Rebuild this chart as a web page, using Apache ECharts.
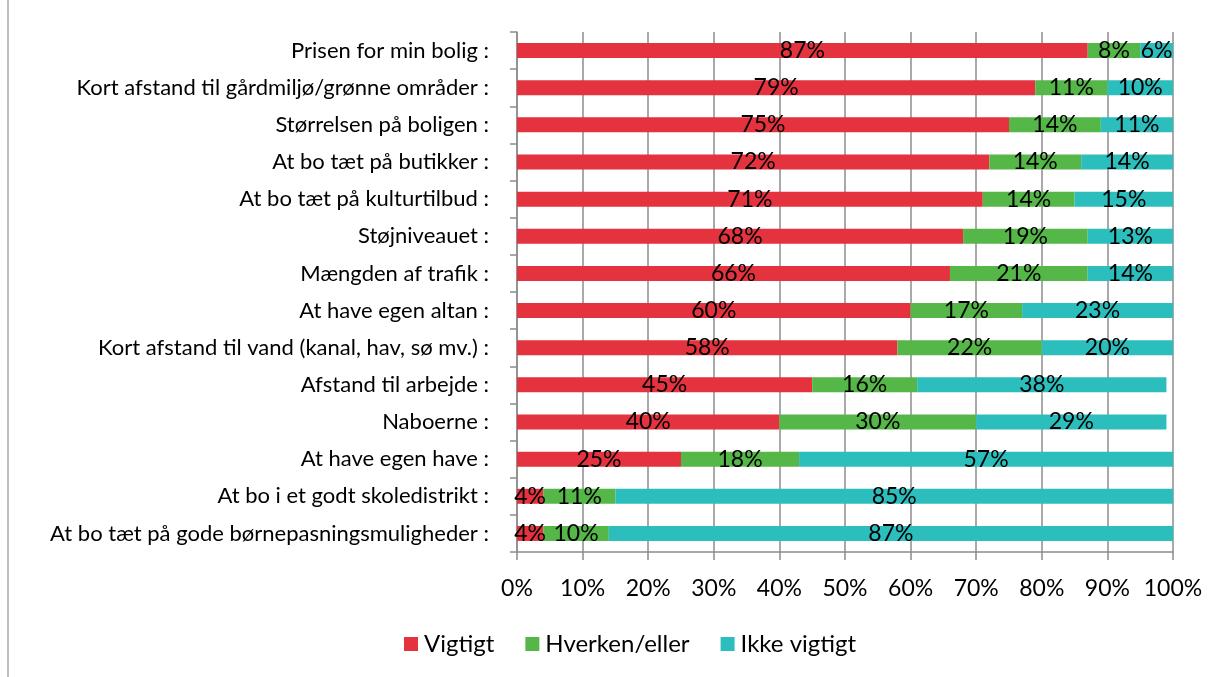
<!DOCTYPE html>
<html>
<head>
<meta charset="utf-8">
<script src="https://cdn.jsdelivr.net/npm/echarts@6/dist/echarts.min.js"></script>
<style>
  html, body { margin: 0; padding: 0; background: #ffffff; }
  #chart { width: 1228px; height: 677px; }
</style>
</head>
<body>
<div id="chart"></div>
<script>
// Survey items, top to bottom
const categories = [
  'Prisen for min bolig :',
  'Kort afstand til gårdmiljø/grønne områder :',
  'Størrelsen på boligen :',
  'At bo tæt på butikker :',
  'At bo tæt på kulturtilbud :',
  'Støjniveauet :',
  'Mængden af trafik :',
  'At have egen altan :',
  'Kort afstand til vand (kanal, hav, sø mv.) :',
  'Afstand til arbejde :',
  'Naboerne :',
  'At have egen have :',
  'At bo i et godt skoledistrikt :',
  'At bo tæt på gode børnepasningsmuligheder :'
];

// Share of answers (%) per item
const vigtigt      = [87, 79, 75, 72, 71, 68, 66, 60, 58, 45, 40, 25, 4, 4];
const hverkenEller = [8, 11, 14, 14, 14, 19, 21, 17, 22, 16, 30, 18, 11, 10];
const ikkeVigtigt  = [6, 10, 11, 14, 15, 13, 14, 23, 20, 38, 29, 57, 85, 87];

const seriesNames = ['Vigtigt', 'Hverken/eller', 'Ikke vigtigt'];
const xTicks = [0, 10, 20, 30, 40, 50, 60, 70, 80, 90, 100];

const FONT = 'Lato, "Open Sans", sans-serif';
const colors = ['#E4323F', '#55B748', '#2CBDBD'];

const chart = echarts.init(document.getElementById('chart'), null, { renderer: 'canvas' });

function barSeries(name, data, color) {
  return {
    name: name,
    type: 'bar',
    stack: 'total',
    barWidth: 15,
    data: data,
    itemStyle: { color: color },
    label: {
      show: true,
      position: 'inside',
      color: '#000000',
      fontFamily: FONT,
      fontSize: 23,
      formatter: p => p.value + '%'
    },
    emphasis: { disabled: true }
  };
}

chart.setOption({
  animation: false,
  textStyle: { fontFamily: FONT },
  graphic: [{
    type: 'rect',
    shape: { x: 7, y: 0, width: 2, height: 677 },
    style: { fill: '#BEBEBE' },
    silent: true
  }],
  legend: {
    data: seriesNames,
    left: 399,
    top: 627,
    itemWidth: 14,
    itemHeight: 14,
    itemGap: 31,
    icon: 'rect',
    textStyle: { fontFamily: FONT, fontSize: 24, color: '#000000', padding: [0, 0, 0, 1] }
  },
  grid: { left: 517, right: 55, top: 32, bottom: 125, containLabel: false },
  xAxis: {
    type: 'value',
    min: xTicks[0],
    max: xTicks[xTicks.length - 1],
    interval: 10,
    axisLine: { show: true, lineStyle: { color: '#8C8C8C', width: 1.5 } },
    axisTick: { show: true, length: 8, lineStyle: { color: '#8C8C8C', width: 1.5 } },
    splitLine: { show: true, lineStyle: { color: '#8C8C8C', width: 1.5 } },
    axisLabel: {
      formatter: v => v + '%',
      color: '#000000',
      fontFamily: FONT,
      fontSize: 23,
      margin: 25
    }
  },
  yAxis: {
    type: 'category',
    inverse: true,
    data: categories,
    axisLine: { show: true, lineStyle: { color: '#8C8C8C', width: 1.5 } },
    axisTick: { show: true, length: 7, interval: 0, lineStyle: { color: '#8C8C8C', width: 1.5 } },
    axisLabel: {
      color: '#000000',
      fontFamily: FONT,
      fontSize: 22,
      margin: 28,
      interval: 0
    }
  },
  series: [
    barSeries(seriesNames[0], vigtigt, colors[0]),
    barSeries(seriesNames[1], hverkenEller, colors[1]),
    barSeries(seriesNames[2], ikkeVigtigt, colors[2])
  ]
});
</script>
</body>
</html>
